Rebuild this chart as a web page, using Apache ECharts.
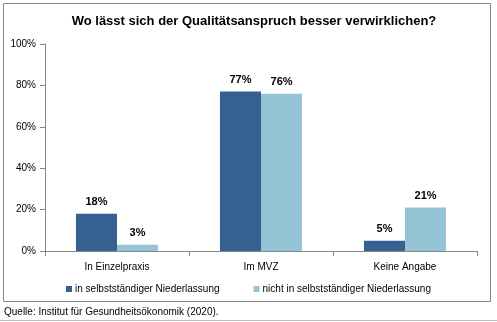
<!DOCTYPE html>
<html><head><meta charset="utf-8">
<script src="https://cdn.jsdelivr.net/npm/echarts@6/dist/echarts.min.js"></script>
<style>html,body{margin:0;padding:0;background:#fff}#c{width:497px;height:322px}</style>
</head><body><div id="c"></div>
<script>
const categories = ['In Einzelpraxis', 'Im MVZ', 'Keine Angabe'];
const seriesNames = ['in selbstständiger Niederlassung', 'nicht in selbstständiger Niederlassung'];
const selbst = [18, 77, 5];
const nichtSelbst = [3, 76, 21];
const yTicks = [0, 20, 40, 60, 80, 100];
const titleText = 'Wo lässt sich der Qualitätsanspruch besser verwirklichen?';
const sourceText = 'Quelle: Institut für Gesundheitsökonomik (2020).';
const colors = ['#376092', '#93c3d5'];
const F = 'Liberation Sans, Arial, sans-serif';

const chart = echarts.init(document.getElementById('c'), null, {renderer: 'canvas'});
const lbl = {show: true, position: 'top', formatter: '{c}%', fontFamily: F, fontSize: 11, fontWeight: 'bold', color: '#000', distance: 6};
chart.setOption({
  animation: false,
  title: {text: titleText, left: 249, textAlign: 'center', top: 10,
    textStyle: {fontFamily: F, fontSize: 13, fontWeight: 'bold', color: '#000'}},
  grid: {left: 45, right: 20, top: 44, bottom: 71, containLabel: false},
  legend: {bottom: 23, left: 'center', itemWidth: 6, itemHeight: 6, itemGap: 34, icon: 'rect',
    textStyle: {fontFamily: F, fontSize: 10, color: '#000', padding: [0, 0, 0, -2]},
    data: seriesNames},
  xAxis: {type: 'category', data: categories,
    axisLine: {lineStyle: {color: '#868686'}},
    axisTick: {show: true, length: 5, lineStyle: {color: '#868686'}},
    axisLabel: {fontFamily: F, fontSize: 10, color: '#000', margin: 11}},
  yAxis: {type: 'value', min: yTicks[0], max: yTicks[yTicks.length-1], interval: 20,
    axisLine: {show: true, lineStyle: {color: '#868686'}},
    axisTick: {show: true, length: 5, lineStyle: {color: '#868686'}},
    splitLine: {show: false},
    axisLabel: {formatter: '{value}%', fontFamily: F, fontSize: 10, color: '#000', margin: 9}},
  series: [
    {name: seriesNames[0], type: 'bar', data: selbst, itemStyle: {color: colors[0]}, barGap: '0%', barCategoryGap: '43%', label: lbl},
    {name: seriesNames[1], type: 'bar', data: nichtSelbst, itemStyle: {color: colors[1]}, label: lbl}
  ],
  graphic: [
    {type: 'rect', shape: {x: 3.5, y: 3.5, width: 487, height: 298}, style: {fill: 'none', stroke: '#868686', lineWidth: 1}, z: -1},
    {type: 'text', left: 4, top: 307, style: {text: sourceText, font: '10px ' + F, fill: '#000'}},
    {type: 'rect', shape: {x: 0, y: 320, width: 497, height: 1}, style: {fill: '#bfbfbf'}}
  ]
});
</script></body></html>
